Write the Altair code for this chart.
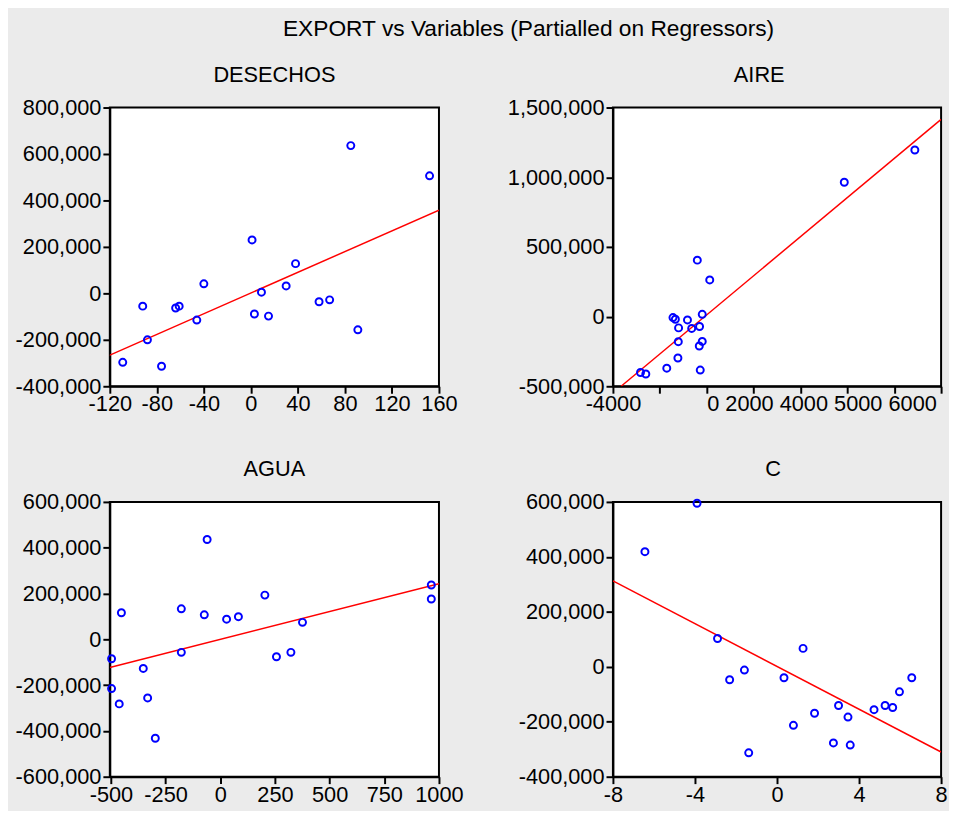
import altair as alt
import pandas as pd

FONT = "Liberation Sans"

# ---------------- data ----------------
desechos_x = [-109, -92, -88, -76, -64, -61, -46, -40, 1, 3, 9, 15, 30, 38, 58, 67, 85, 91, 152]
desechos_y = [-297000, -55000, -200000, -314000, -63000, -55000, -115000, 41000, 230000, -89000,
              5000, -98000, 32000, 128000, -36000, -28000, 636000, -157000, 506000]
desechos_fit_x = [-121, 160]
desechos_fit_y = [-268000, 358000]

aire_x = [8880, 5870, -400, 130, -190, -1438, -1337, -820, -1199, -640, -304, -1211, -190, -316,
          -1228, -1703, -2824, -2597, -275]
aire_y = [1195000, 964000, 405000, 263000, 16000, -7000, -19000, -24000, -81000, -85000, -71000,
          -180000, -178000, -211000, -297000, -370000, -401000, -412000, -384000]
aire_fit_x = [-3650, 10000]
aire_fit_y = [-500000, 1415000]
aire_tick_values = [-4000, -2000, 0, 2000, 4000, 6000, 8000, 10000]
# the reference prints the labels from 0 onward as one run of text
aire_tick_labels = ["-4000", "", "0 2000 4000 5000 6000", "", "", "", "", ""]

agua_x = [-60, 204, -452, -178, -73, 29, 83, 965, 965, 376, -178, -497, 257, 323, -352, -497, -332, -462, -297]
agua_y = [436000, 193000, 116000, 133000, 107000, 88000, 99000, 237000, 176000, 74000, -57000,
          -85000, -76000, -57000, -127000, -215000, -256000, -282000, -432000]
agua_fit_x = [-505, 1000]
agua_fit_y = [-123000, 243000]

c_x = [-3.9, -6.44, -2.9, 1.27, -1.59, -2.31, 0.34, 6.57, 5.97, 3.0, 5.27, 5.64, 4.73, 1.83, 3.46,
       0.80, 2.75, 3.57, -1.38]
c_y = [595000, 419000, 103000, 67000, -12000, -47000, -40000, -40000, -91000, -141000, -141000,
       -148000, -156000, -169000, -183000, -213000, -277000, -285000, -313000]
c_fit_x = [-8, 8]
c_fit_y = [313000, -310000]

MINUS_FIX = "replace(datum.label, '\u2212', '-')"


def panel(name, xs, ys, fx, fy, xdom, xvals, ydom, yvals, w, h, xlabel_expr=None, xalign=None,
          title_dx=0):
    pts = pd.DataFrame({"x": xs, "y": ys})
    fit = pd.DataFrame({"x": fx, "y": fy})
    xscale = alt.Scale(domain=xdom, nice=False, zero=False)
    yscale = alt.Scale(domain=ydom, nice=False, zero=False)
    xkw = {}
    if xalign is not None:
        xkw["labelAlign"] = xalign
    xaxis = alt.Axis(values=xvals, title=None, format="d", labelPadding=1,
                     labelExpr=xlabel_expr if xlabel_expr else MINUS_FIX, **xkw)
    yaxis = alt.Axis(values=yvals, title=None, format=",d", labelExpr=MINUS_FIX)
    line = alt.Chart(fit).mark_line(color="#ff0000", strokeWidth=1.5, clip=True).encode(
        x=alt.X("x:Q", scale=xscale, axis=xaxis),
        y=alt.Y("y:Q", scale=yscale, axis=yaxis),
    )
    points = alt.Chart(pts).mark_point(shape="circle", filled=False, color="#0000ff",
                                       size=50, strokeWidth=2, opacity=1).encode(
        x=alt.X("x:Q", scale=xscale, axis=xaxis),
        y=alt.Y("y:Q", scale=yscale, axis=yaxis),
    )
    return alt.layer(line, points).properties(
        width=w, height=h,
        title=alt.TitleParams(name, font=FONT, fontSize=22, fontWeight="normal",
                              color="black", offset=10, dx=title_dx),
    )


aire_expr = " : ".join(
    f"datum.value == {v} ? '{l}'" for v, l in zip(aire_tick_values, aire_tick_labels)
) + " : ''"
aire_align = {"condition": {"test": "datum.value == 0", "value": "left"}, "value": "center"}

p1 = panel("DESECHOS", desechos_x, desechos_y, desechos_fit_x, desechos_fit_y,
           [-120, 160], [-120, -80, -40, 0, 40, 80, 120, 160],
           [-400000, 800000], [-400000, -200000, 0, 200000, 400000, 600000, 800000], 333, 282)
p2 = panel("AIRE", aire_x, aire_y, aire_fit_x, aire_fit_y,
           [-4000, 10000], aire_tick_values,
           [-500000, 1500000], [-500000, 0, 500000, 1000000, 1500000], 332, 282,
           xlabel_expr=aire_expr, xalign=aire_align, title_dx=-18)
p3 = panel("AGUA", agua_x, agua_y, agua_fit_x, agua_fit_y,
           [-505, 1000], [-500, -250, 0, 250, 500, 750, 1000],
           [-600000, 600000], [-600000, -400000, -200000, 0, 200000, 400000, 600000], 333, 278)
p4 = panel("C", c_x, c_y, c_fit_x, c_fit_y,
           [-8, 8], [-8, -4, 0, 4, 8],
           [-400000, 600000], [-400000, -200000, 0, 200000, 400000, 600000], 332, 278,
           title_dx=-4)

chart = alt.concat(p1, p2, p3, p4, columns=2, spacing={"row": 42, "column": 42}).properties(
    title=alt.TitleParams("EXPORT vs Variables (Partialled on Regressors)", font=FONT,
                          fontSize=23, fontWeight="normal", color="black", anchor="middle",
                          offset=22, dx=48),
    padding={"left": 6, "top": 6, "right": 0, "bottom": 0},
).configure(background="#ebebeb").configure_view(
    fill="white", stroke="black", strokeWidth=2
).configure_axis(
    labelFont=FONT, labelFontSize=22, labelColor="black", domainColor="black", domainWidth=2,
    tickColor="black", tickWidth=2, tickSize=7, labelPadding=2, grid=False, labelFlush=False,
    labelOverlap=False, labelBound=False, labelLimit=0
)

chart.save("out.html", embed_options={"renderer": "svg", "actions": False})
